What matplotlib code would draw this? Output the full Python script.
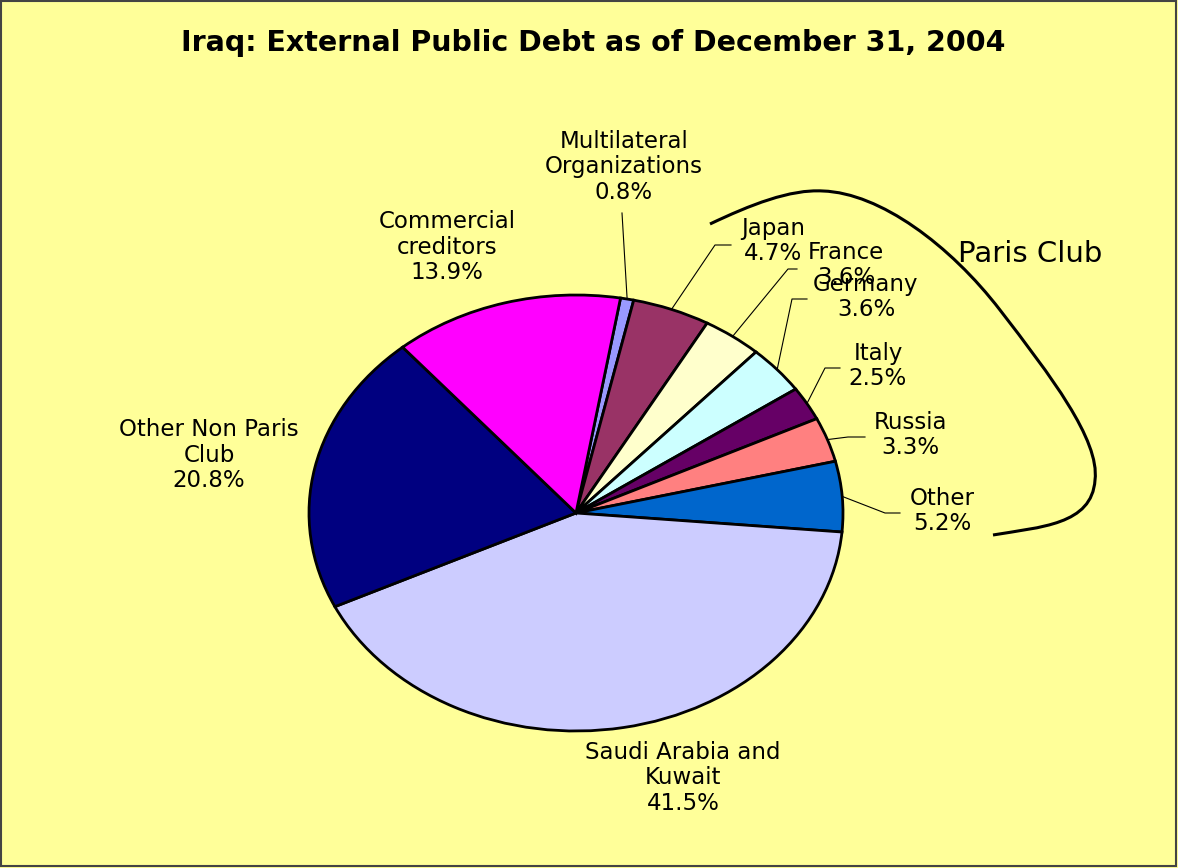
import matplotlib
matplotlib.use('Agg')
import matplotlib.pyplot as plt
from matplotlib.path import Path
from matplotlib.patches import PathPatch, Rectangle
import numpy as np

title = 'Iraq: External Public Debt as of December 31, 2004'
creditors = ['Multilateral\nOrganizations', 'Japan', 'France', 'Germany', 'Italy',
             'Russia', 'Other', 'Saudi Arabia and\nKuwait', 'Other Non Paris\nClub',
             'Commercial\ncreditors']
shares = [0.8, 4.7, 3.6, 3.6, 2.5, 3.3, 5.2, 41.5, 20.8, 13.9]
colors = ['#9999FF', '#993366', '#FFFFCC', '#CCFFFF', '#660066',
          '#FF8080', '#0066CC', '#CCCCFF', '#000080', '#FF00FF']
group_label = 'Paris Club'

W, H = 1178, 868
bg = '#FFFF99'

fig = plt.figure(figsize=(W / 100, H / 100), dpi=100, facecolor=bg)

# pie (stretched ellipse like the original)
cx, cy, rx, ry = 576, 513, 267, 218
ax = fig.add_axes([(cx - rx) / W, 1 - (cy + ry) / H, 2 * rx / W, 2 * ry / H])
wedges, _ = ax.pie(shares, colors=colors, startangle=80.4, counterclock=False,
                   radius=1, wedgeprops=dict(edgecolor='black', linewidth=2.0))
ax.set_aspect('auto')
ax.set_xlim(-1, 1)
ax.set_ylim(-1, 1)
ax.axis('off')

# overlay in pixel coordinates for labels and decorations
ov = fig.add_axes([0, 0, 1, 1], zorder=5)
ov.set_xlim(0, W)
ov.set_ylim(H, 0)
ov.axis('off')
ov.patch.set_alpha(0)

ov.text(593, 51, title, ha='center', va='baseline', fontsize=20.5, fontweight='bold')

label_pos = [(624, 167), (773, 241), (846, 265), (866, 297), (878, 366),
             (910, 435), (942, 511), (683, 778), (209, 455), (447, 247)]
# leader line points (label side), ending on the slice edge
leaders = {0: [(622, 213)],
           1: [(731, 245), (715, 245)],
           2: [(797, 269), (788, 269)],
           3: [(807, 299), (792, 299)],
           4: [(840, 368), (825, 368)],
           5: [(865, 437), (848, 437)],
           6: [(900, 513), (885, 513)]}

to_ov = ov.transData.inverted()
for i, (name, val) in enumerate(zip(creditors, shares)):
    x, y = label_pos[i]
    ov.text(x, y, f'{name}\n{val:.1f}%', ha='center', va='center',
            fontsize=16.5, linespacing=1.12, multialignment='center')
    if i in leaders:
        w = wedges[i]
        mid = np.deg2rad((w.theta1 + w.theta2) / 2)
        edge = to_ov.transform(ax.transData.transform((np.cos(mid), np.sin(mid))))
        pts = leaders[i] + [tuple(edge)]
        ov.plot([p[0] for p in pts], [p[1] for p in pts], color='black', lw=0.8)

# Paris Club bracket
verts = [(710, 224), (750, 205), (790, 189), (823, 191),
         (880, 193), (950, 245), (1000, 310),
         (1050, 375), (1100, 440), (1095, 480),
         (1092, 525), (1040, 527), (993, 535)]
codes = [Path.MOVETO] + [Path.CURVE4] * 12
ov.add_patch(PathPatch(Path(verts, codes), fill=False, edgecolor='black', lw=2.2))
ov.text(1030, 262, group_label, ha='center', va='baseline', fontsize=21)

ov.add_patch(Rectangle((1, 1), W - 3, H - 3, fill=False, edgecolor='#444444',
                       lw=1.5, clip_on=False))

fig.savefig('out.png', dpi=100, facecolor=bg)
